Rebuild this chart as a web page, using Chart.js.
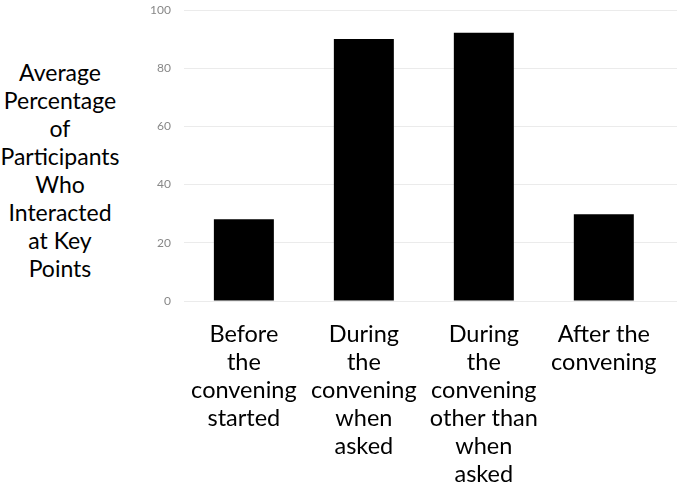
<!DOCTYPE html>
<html>
<head>
<meta charset="utf-8">
<script src="https://cdn.jsdelivr.net/npm/chart.js@4"></script>
<style>
  html, body { margin: 0; padding: 0; background: #fff; overflow: hidden; }
  #wrap { position: relative; width: 677px; height: 500px; overflow: hidden; }
  #yTitle {
    position: absolute; left: 0; top: 58px; width: 120px;
    text-align: center; font: 23px Lato, sans-serif; line-height: 28px; color: #000;
    white-space: nowrap;
  }
  canvas { position: absolute; left: 0; top: 0; }
</style>
</head>
<body>
<div id="wrap">
  <div id="yTitle"></div>
  <canvas id="barChart" width="677" height="500"></canvas>
</div>
<script>
// Datos del gráfico
const categorias = [
    ['Before', 'the', 'convening', 'started'],
    ['During', 'the', 'convening', 'when', 'asked'],
    ['During', 'the', 'convening', 'other than', 'when', 'asked'],
    ['After the', 'convening']
];
const valores = [28.1, 90.0, 92.2, 29.8];
const ticksY = [0, 20, 40, 60, 80, 100];
const tituloY = ['Average', 'Percentage', 'of', 'Participants', 'Who', 'Interacted', 'at Key', 'Points'];

document.getElementById('yTitle').innerHTML = tituloY.join('<br>');

Chart.defaults.font.family = 'Lato, sans-serif';

const ctx = document.getElementById('barChart');
const barChart = new Chart(ctx.getContext('2d'), {
    type: 'bar',
    data: {
        labels: categorias,
        datasets: [{
            label: 'Average Percentage',
            data: valores,
            backgroundColor: '#000000',
            barPercentage: 0.5,
            categoryPercentage: 1.0
        }]
    },
    options: {
        responsive: false,
        animation: false,
        layout: {
            padding: { left: 150, right: 0, top: 10, bottom: 1 }
        },
        plugins: {
            legend: { display: false },
            tooltip: { enabled: false }
        },
        scales: {
            y: {
                min: ticksY[0],
                max: ticksY[ticksY.length - 1],
                afterBuildTicks: function(scale) {
                    scale.ticks = ticksY.map(v => ({ value: v }));
                },
                grid: {
                    color: '#ebebeb',
                    drawTicks: true,
                    tickLength: 13,
                    tickColor: 'rgba(0,0,0,0)'
                },
                border: { display: false },
                ticks: {
                    color: '#888888',
                    font: { size: 12 },
                    padding: 0
                }
            },
            x: {
                // un poco de espacio libre a la derecha, como en el original
                afterBuildTicks: function(scale) {
                    scale._valueRange = scale._valueRange + 0.11;
                },
                grid: { display: false },
                border: { display: false },
                ticks: {
                    color: '#000000',
                    font: { size: 23.5, lineHeight: '28px' },
                    padding: 11,
                    maxRotation: 0,
                    autoSkip: false
                }
            }
        }
    }
});
</script>
</body>
</html>
